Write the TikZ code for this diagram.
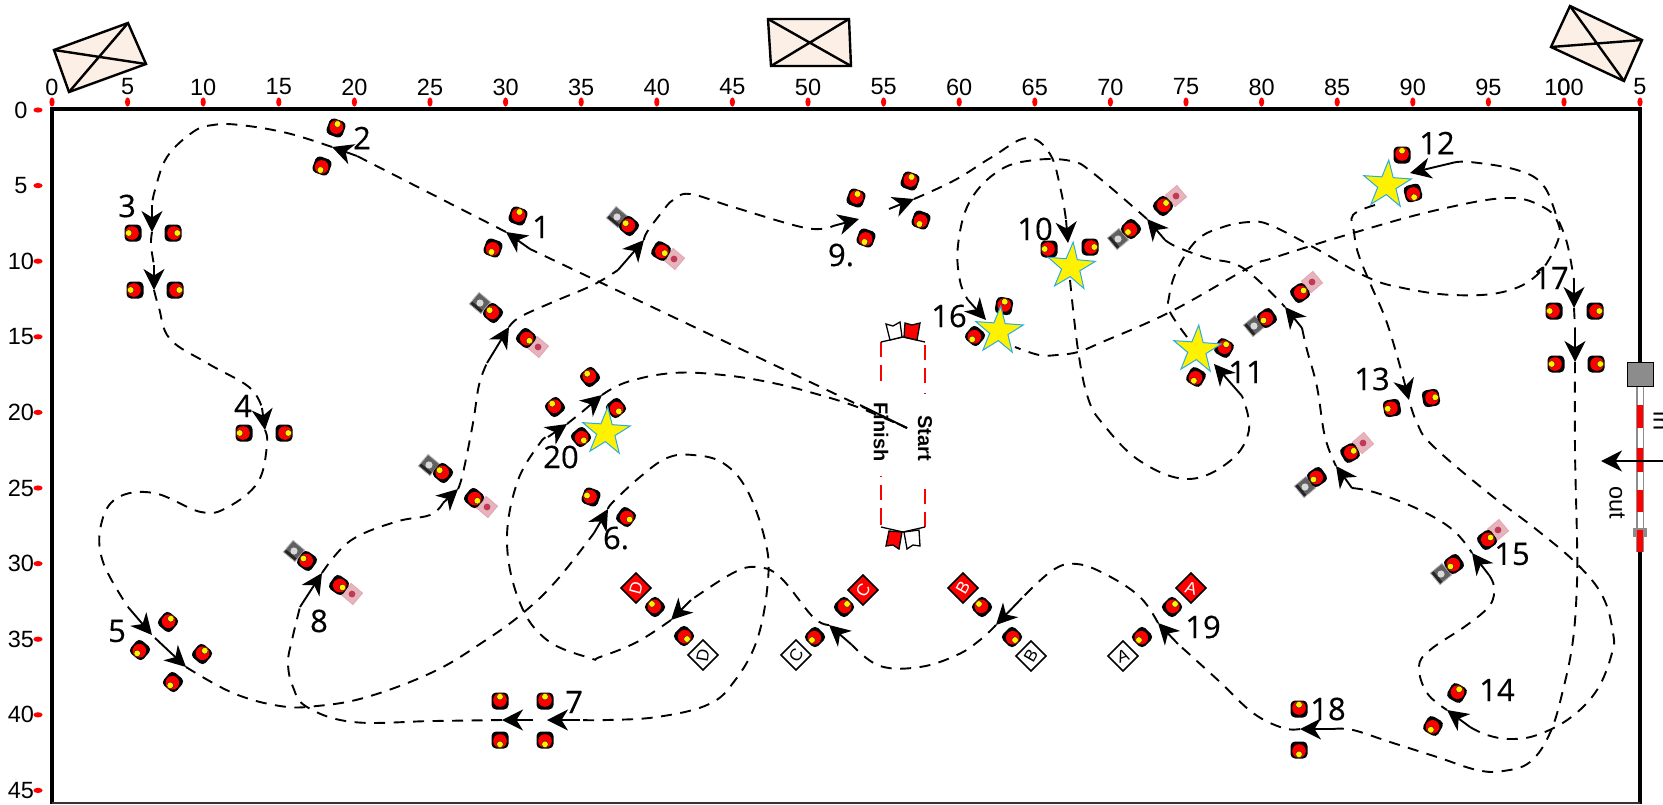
\documentclass[tikz,border=0pt]{standalone}
\usepackage{fontspec}
\setmainfont{Liberation Sans}
\newfontfamily\labelfont[FakeBold=0.35]{Open Sans}
\usetikzlibrary{arrows.meta,shapes.geometric}
\definecolor{bldg}{HTML}{FCEFE5}
\definecolor{starline}{HTML}{29ABE2}
\definecolor{pinktile}{HTML}{E6B4BC}
\definecolor{pinkcore}{HTML}{C03A55}
\tikzset{
  course/.style={line width=1.9pt,dash pattern=on 11pt off 8.5pt,line cap=butt},
  arrowstub/.style={line width=1.9pt,-{Stealth[length=21pt,width=21pt,inset=6.5pt]}},
  frameline/.style={line width=3.6pt,line cap=butt},
  bldgbox/.style={line width=2.4pt,fill=bldg,line join=miter},
  bldgcross/.style={line width=2.4pt},
  ticktick/.style={fill=red,draw=none},
  rulertext/.style={font=\fontsize{23.5}{25}\selectfont,inner sep=0pt},
  numlabel/.style={font=\labelfont\fontsize{31}{32}\selectfont,inner sep=0pt},
  goalstar/.style={star,star points=5,star point ratio=2.6,draw=starline,line width=1pt,fill=yellow,inner sep=0pt,outer sep=0pt,minimum size=50pt},
  gatetext/.style={font=\bfseries\fontsize{20}{22}\selectfont,inner sep=0pt,rotate=-90},
  redflag/.style={draw=black,line width=1.3pt,fill=red,line join=miter},
  whiteflag/.style={draw=black,line width=1.3pt,fill=white,line join=miter},
}
\newcommand{\conemark}[3]{\begin{scope}[shift={(#1,#2)},rotate=#3]
  \fill[black,rounded corners=4.5pt] (-8.5,-8.5) rectangle (8.5,8.5);
  \fill[red] (1,0) circle[radius=6.8];
  \fill[yellow,draw=black,line width=.3pt] (4.3,0) circle[radius=3.3];
\end{scope}}
\newcommand{\blacktile}[3]{\begin{scope}[shift={(#1,#2)},rotate=#3]
  \fill[black!62] (-7.5,-7.5) rectangle (7.5,7.5);
  \fill[black!85] (-7.5,-7.5) rectangle (-4,7.5);
  \fill[white!85!black] (0,0) circle[radius=3.6];
  \draw[black!30,line width=.8pt] (-7.5,-7.5) rectangle (7.5,7.5);
\end{scope}}
\newcommand{\pinktilemark}[3]{\begin{scope}[shift={(#1,#2)},rotate=#3]
  \fill[pinktile] (-7.5,-7.5) rectangle (7.5,7.5);
  \fill[pinkcore] (0,0) circle[radius=3.4];
  \draw[pinkcore!45!white,line width=.8pt] (-7.5,-7.5) rectangle (7.5,7.5);
\end{scope}}
\newcommand{\diamondmark}[4]{% x y fill + letter node in #4
  \begin{scope}[shift={(#1,#2)}]
  \filldraw[fill=#3,draw=black,line width=1.6pt,line join=miter] (15,0)--(0,15)--(-15,0)--(0,-15)--cycle;
  #4
  \end{scope}}
\newcommand{\arrowmark}[4]{\draw[arrowstub] (#1,#2) -- (#3,#4);}
\begin{document}
\begin{tikzpicture}[x=1pt,y=-1pt]
\useasboundingbox (0,0) rectangle (1663,804);
\fill[white] (0,0) rectangle (1663,804);

% buildings
\draw[bldgbox] (54,50) -- (128,23) -- (146,64) -- (69,92) -- cycle;
\draw[bldgcross] (54,50) -- (146,64) (128,23) -- (69,92);
\draw[bldgbox] (768,19) -- (849,19) -- (851,66) -- (771,66) -- cycle;
\draw[bldgcross] (768,19) -- (851,66) (849,19) -- (771,66);
\draw[bldgbox] (1570,6) -- (1642,40) -- (1624,81) -- (1551,47) -- cycle;
\draw[bldgcross] (1570,6) -- (1624,81) (1642,40) -- (1551,47);

% frame
\draw[frameline] (1640,804) -- (1640,552);
\draw[frameline] (1640,362) -- (1640,109) -- (52,109) -- (52,804);
\draw[frameline,black!80,line width=2pt] (52,803) -- (1640,803);

% rulers
\foreach \v [count=\i from 0] in {0,5,10,15,20,25,30,35,40,45,50,55,60,65,70,75,80,85,90,95,100}{
  \pgfmathsetmacro{\xx}{52+\i*75.6}
  \fill[ticktick] (\xx,102) ellipse[x radius=2.6,y radius=4.6];
  \node[rulertext] (rx\i) at (\xx,87) {\v};
}
\node[rulertext] (rxz) at (1564,87) {0};
\fill[ticktick] (1640,102) ellipse[x radius=2.6,y radius=4.6];
\node[rulertext] (rxe) at (1640,87) {5};
\foreach \v [count=\i from 0] in {0,5,10,15,20,25,30,35,40,45}{
  \pgfmathsetmacro{\yy}{110+\i*75.6}
  \fill[ticktick] (38,\yy) ellipse[x radius=4.6,y radius=2.6];
  \node[rulertext] (ry\i) at (21,\yy) {\v};
}

% exit gate on the right
\fill[black!45] (1636,386) rectangle (1644,552);
\fill[white] (1637.5,386) rectangle (1642.5,552);
\fill[black!45] (1633,528) rectangle (1647,537);
\foreach \a/\b in {405/428,448/472,490/512,530/552}{\fill[red] (1637,\a) rectangle (1643,\b);}
\filldraw[fill=black!45,draw=black,line width=1pt] (1627,362) rectangle (1653,386);
\draw[line width=1.6pt,-{Stealth[length=21pt,width=21pt,inset=6.5pt]}] (1663,461) -- (1601,461);
\node[font=\fontsize{23.5}{25}\selectfont,inner sep=0pt,rotate=-90] (outlabel) at (1617,503) {out};
\node[font=\fontsize{23.5}{25}\selectfont,inner sep=0pt,rotate=-90] (inlabel) at (1662,421) {in};

% start / finish
\draw[red,line width=1.4pt] (881,342)--(881,357) (881,365)--(881,381) (881,476)--(881,477) (881,485)--(881,500) (881,508)--(881,525);
\draw[red,line width=1.4pt] (925,345)--(925,360) (925,368)--(925,383) (925,393)--(925,394) (925,489)--(925,504) (925,512)--(925,527);
\draw[line width=1.3pt] (881,342) -- (903,337) -- (925,342);
\draw[line width=1.3pt] (881,527) -- (903,532) -- (925,527);
\draw[whiteflag] (886,324) -- (893,326) -- (900,322) -- (902,337) -- (890,340) -- cycle;
\draw[redflag] (905,323) -- (912,325) -- (920,323) -- (917,340) -- (904,337) -- cycle;
\draw[redflag] (889,531) -- (902,532) -- (899,549) -- (893,545) -- (886,546) -- cycle;
\draw[whiteflag] (904,532) -- (919,530) -- (920,546) -- (913,545) -- (907,549) -- cycle;
\node[gatetext] (finish) at (881,432) {Finish};
\node[gatetext] (start) at (925,438) {Start};

% tiles
\blacktile{294}{551}{50}\pinktilemark{352}{594}{50}
\blacktile{480}{303}{50}\pinktilemark{538}{347}{50}
\blacktile{617}{217}{50}\pinktilemark{674}{259}{50}
\blacktile{429}{465}{50}\pinktilemark{487}{507}{50}
\blacktile{1118}{239}{40}\pinktilemark{1176}{196}{40}
\blacktile{1254}{326}{40}\pinktilemark{1312}{282}{40}
\blacktile{1305}{487}{40}\pinktilemark{1363}{443}{40}
\blacktile{1441}{574}{40}\pinktilemark{1498}{530}{40}

% cones
\conemark{518}{216}{70}\conemark{493}{248}{250}
\conemark{336}{128}{70}\conemark{322}{166}{250}
\conemark{133}{233}{180}\conemark{173}{233}{0}
\conemark{135}{290}{180}\conemark{175}{290}{0}
\conemark{244}{433}{180}\conemark{284}{433}{0}
\conemark{168}{622}{50}\conemark{140}{650}{230}\conemark{202}{654}{50}\conemark{173}{682}{230}
\conemark{591}{497}{160}\conemark{626}{517}{-35}
\conemark{590}{377}{130}\conemark{555}{407}{130}\conemark{616}{408}{-50}\conemark{581}{437}{-50}
\conemark{655}{607}{135}\conemark{684}{636}{-45}
\conemark{844}{607}{45}\conemark{815}{637}{225}
\conemark{982}{607}{135}\conemark{1012}{637}{-45}
\conemark{1172}{607}{45}\conemark{1142}{637}{225}
\conemark{500}{701}{90}\conemark{545}{701}{90}\conemark{500}{740}{-90}\conemark{545}{740}{-90}
\conemark{307}{561}{145}\conemark{339}{585}{-35}
\conemark{493}{313}{140}\conemark{526}{338}{-40}
\conemark{629}{226}{140}\conemark{661}{251}{-30}
\conemark{443}{473}{140}\conemark{474}{498}{-40}
\conemark{856}{198}{70}\conemark{910}{181}{70}\conemark{866}{238}{250}\conemark{921}{220}{250}
\conemark{1049}{249}{180}\conemark{1090}{247}{0}
\conemark{1131}{229}{225}\conemark{1163}{206}{45}
\conemark{1267}{318}{215}\conemark{1300}{293}{35}
\conemark{1224}{348}{60}\conemark{1196}{377}{240}
\conemark{1402}{155}{90}\conemark{1413}{193}{-75}
\conemark{1004}{306}{80}\conemark{975}{336}{230}
\conemark{1554}{311}{180}\conemark{1595}{311}{0}\conemark{1556}{364}{180}\conemark{1596}{364}{0}
\conemark{1392}{408}{190}\conemark{1431}{398}{10}
\conemark{1350}{453}{30}\conemark{1317}{477}{215}
\conemark{1487}{540}{35}\conemark{1454}{564}{215}
\conemark{1457}{693}{60}\conemark{1433}{726}{240}
\conemark{1299}{709}{90}\conemark{1299}{750}{-90}

% lettered diamonds
\diamondmark{636}{588}{red}{\node[text=white,font=\fontsize{17}{18}\selectfont,inner sep=0pt,rotate=75] (dr) at (0,0) {D};}
\diamondmark{703}{655}{white}{\node[text=black,font=\fontsize{17}{18}\selectfont,inner sep=0pt,rotate=80] (dw) at (0,0) {D};}
\diamondmark{863}{590}{red}{\node[text=white,font=\fontsize{17}{18}\selectfont,inner sep=0pt,rotate=60] (cr) at (0,0) {C};}
\diamondmark{796}{655}{white}{\node[text=black,font=\fontsize{17}{18}\selectfont,inner sep=0pt,rotate=60] (cw) at (0,0) {C};}
\diamondmark{963}{588}{red}{\node[text=white,font=\fontsize{17}{18}\selectfont,inner sep=0pt,rotate=60] (br) at (0,0) {B};}
\diamondmark{1031}{656}{white}{\node[text=black,font=\fontsize{17}{18}\selectfont,inner sep=0pt,rotate=60] (bw) at (0,0) {B};}
\diamondmark{1191}{588}{red}{\node[text=white,font=\fontsize{17}{18}\selectfont,inner sep=0pt,rotate=-15] (ar) at (0,0) {A};}
\diamondmark{1123}{656}{white}{\node[text=black,font=\fontsize{17}{18}\selectfont,inner sep=0pt,rotate=20] (aw) at (0,0) {A};}

% course
\draw[course] (907,428) -- (530,249);
\draw[course] (506,232) -- (357,156);
\draw[course] plot[smooth,tension=.65] coordinates {(332,147)(287,133)(240,125)(213,125)(193,132)(167,157)(155,190)(152,205)};
\draw[course] plot[smooth,tension=.65] coordinates {(152,232)(151,245)(154,265)};
\draw[course] plot[smooth,tension=.65] coordinates {(154,290)(159,308)(170,339)(207,363)(249,387)(262,408)};
\draw[course] plot[smooth,tension=.65] coordinates {(265,430)(267,445)(258,482)(228,507)(201,512)(154,493)(117,498)(101,525)(103,562)(128,607)};
\draw[course] plot[smooth,tension=.65] coordinates {(186,667)(233,693)(280,706)(317,706)(367,697)(433,672)(483,642)(523,613)(557,580)(594,533)};
\draw[course] plot[smooth,tension=.65] coordinates {(608,509)(613,502)(640,477)(667,458)(693,455)(723,463)(747,490)(765,540)(768,580)(757,640)(733,683)(707,705)(657,717)(607,720)(580,720)};
\draw[course] plot[smooth,tension=.65] coordinates {(502,720)(433,721)(353,722)(307,707)(293,687)(288,663)(292,640)(300,607)};
\draw[course] plot[smooth,tension=.65] coordinates {(322,573)(350,541)(395,522)(430,515)(443,503)};
\draw[course] plot[smooth,tension=.65] coordinates {(458,489)(463,473)(473,423)(479,385)(487,363)};
\draw[course] plot[smooth,tension=.65] coordinates {(509,327)(520,317)(553,302)(593,285)(618,270)};
\draw[course] plot[smooth,tension=.65] coordinates {(644,240)(647,232)(662,212)(673,200)(690,194)(733,207)(806,228)(833,226)};
\draw[course] plot[smooth,tension=.65] coordinates {(914,199)(955,180)(992,157)(1027,138)(1050,154)(1061,191)(1066,220)};
\draw[course] plot[smooth,tension=.65] coordinates {(1070,280)(1078,350)(1088,398)(1103,424)(1140,461)(1188,479)(1230,461)(1249,430)(1242,396)};
\draw[course] plot[smooth,tension=.65] coordinates {(1187,337)(1170,312)(1169,297)(1177,270)(1197,240)(1223,227)(1250,222)(1270,225)(1313,247)(1367,277)(1403,288)(1453,295)(1503,292)(1537,275)(1557,243)(1558,223)(1543,207)(1507,198)(1437,210)(1353,233)(1273,258)(1250,267)(1170,312)(1100,343)(1078,352)(1057,355)(1039,355)(1015,347)};
\draw[course] plot[smooth,tension=.65] coordinates {(1147,219)(1093,173)(1071,161)(1035,160)(1000,170)(970,201)(958,245)(960,281)(968,300)};
\draw[course] plot[smooth,tension=.65] coordinates {(1165,240)(1177,247)(1207,258)(1243,268)(1285,307)};
\draw[course] plot[smooth,tension=.65] coordinates {(1302,328)(1307,350)(1317,387)(1325,437)(1336,466)};
\draw[course] plot[smooth,tension=.65] coordinates {(1352,488)(1377,493)(1420,510)(1453,530)(1472,553)};
\draw[course] plot[smooth,tension=.65] coordinates {(1489,575)(1494,587)(1490,605)(1467,625)(1430,650)(1419,667)(1427,693)(1447,710)};
\draw[course] plot[smooth,tension=.65] coordinates {(1470,727)(1487,735)(1510,739)(1537,735)(1570,718)(1597,690)(1612,653)(1613,633)(1603,597)(1578,565)(1537,530)(1487,492)(1432,445)(1417,423)(1409,400)};
\draw[course] plot[smooth,tension=.65] coordinates {(1375,205)(1353,215)(1354,232)(1358,253)(1370,283)(1387,323)(1403,377)};
\draw[course] plot[smooth,tension=.65] coordinates {(1452,163)(1470,162)(1517,170)(1543,185)(1557,217)(1567,243)(1574,280)};
\draw[course] (1574,308) -- (1575,328);
\draw[course] plot[smooth,tension=.65] coordinates {(1575,362)(1575,450)(1577,540)(1577,583)(1573,640)(1563,690)(1550,733)(1530,762)(1503,771)(1477,770)(1437,757)(1390,742)(1353,730)(1333,729)};
\draw[course] plot[smooth,tension=.65] coordinates {(1300,729)(1283,728)(1253,713)(1220,682)(1178,644)};
\draw[course] plot[smooth,tension=.65] coordinates {(1158,623)(1140,597)(1107,575)(1077,564)(1053,570)(1022,598)};
\draw[course] plot[smooth,tension=.65] coordinates {(996,625)(980,640)(957,655)(920,667)(880,666)(852,645)};
\draw[course] plot[smooth,tension=.65] coordinates {(829,625)(813,617)(780,577)(757,567)(733,573)(691,600)};
\draw[course] plot[smooth,tension=.65] coordinates {(671,620)(637,642)(600,657)(590,658)(547,640)(520,603)(507,543)(517,483)(540,443)(548,437)};
\draw[course] (567,424) -- (582,412);
\draw[course] plot[smooth,tension=.65] coordinates {(602,395)(627,382)(673,373)(723,375)(773,383)(820,395)(860,408)(907,428)};
\draw[line width=1.9pt] (860,405) -- (907,428);

% stars
\node[goalstar,rotate=-5] (star10) at (1071,267) {};
\node[goalstar,rotate=-4] (star11) at (1197,350) {};
\node[goalstar,rotate=-4] (star12) at (1387,185) {};
\node[goalstar,rotate=-4] (star16) at (999,331) {};
\node[goalstar,rotate=-4] (star20) at (606,432) {};

% arrowheads
\arrowmark{530}{249}{506}{232}
\arrowmark{357}{156}{332}{147}
\arrowmark{152}{205}{152}{232}
\arrowmark{154}{265}{154}{290}
\arrowmark{262}{408}{265}{430}
\arrowmark{128}{607}{152}{635}
\arrowmark{155}{638}{186}{667}
\arrowmark{594}{533}{608}{509}
\arrowmark{580}{720}{547}{720}
\arrowmark{533}{720}{502}{720}
\arrowmark{300}{607}{322}{573}
\arrowmark{443}{503}{458}{489}
\arrowmark{487}{363}{509}{327}
\arrowmark{618}{270}{644}{240}
\arrowmark{833}{226}{859}{219}
\arrowmark{889}{209}{914}{199}
\arrowmark{1066}{220}{1068}{243}
\arrowmark{1242}{396}{1214}{364}
\arrowmark{1165}{240}{1147}{219}
\arrowmark{1302}{328}{1285}{307}
\arrowmark{1352}{488}{1336}{466}
\arrowmark{1489}{575}{1472}{553}
\arrowmark{1470}{727}{1447}{710}
\arrowmark{1333}{729}{1300}{729}
\arrowmark{1178}{644}{1158}{623}
\arrowmark{1022}{598}{996}{625}
\arrowmark{852}{645}{829}{625}
\arrowmark{691}{600}{671}{620}
\arrowmark{548}{437}{567}{424}
\arrowmark{582}{412}{602}{395}
\arrowmark{1452}{163}{1410}{173}
\arrowmark{1403}{377}{1409}{400}
\arrowmark{1574}{280}{1574}{308}
\arrowmark{1575}{328}{1575}{362}
\arrowmark{968}{300}{986}{320}

% labels
\node[numlabel] (l1) at (541,227) {1};
\node[numlabel] (l2) at (362,138) {2};
\node[numlabel] (l3) at (127,206) {3};
\node[numlabel] (l4) at (243,406) {4};
\node[numlabel] (l5) at (117,631) {5};
\node[numlabel] (l6) at (616,538) {6.};
\node[numlabel] (l7) at (574,702) {7};
\node[numlabel] (l8) at (319,621) {8};
\node[numlabel] (l9) at (841,255) {9.};
\node[numlabel] (l10) at (1035,229) {10};
\node[numlabel] (l11) at (1246,372) {11};
\node[numlabel] (l12) at (1437,143) {12};
\node[numlabel] (l13) at (1372,379) {13};
\node[numlabel] (l14) at (1497,690) {14};
\node[numlabel] (l15) at (1512,554) {15};
\node[numlabel] (l16) at (949,316) {16};
\node[numlabel] (l17) at (1551,278) {17};
\node[numlabel] (l18) at (1328,709) {18};
\node[numlabel] (l19) at (1203,627) {19};
\node[numlabel] (l20) at (561,457) {20};
\end{tikzpicture}
\end{document}
